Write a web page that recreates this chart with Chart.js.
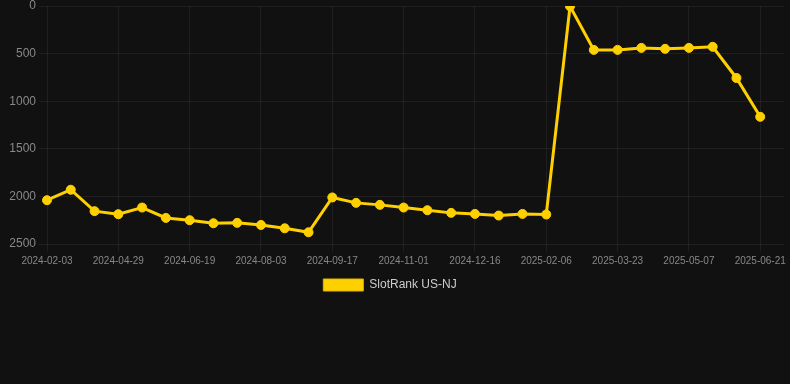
<!DOCTYPE html>
<html>
<head>
<meta charset="utf-8">
<script src="https://cdn.jsdelivr.net/npm/chart.js@4/dist/chart.umd.min.js"></script>
<style>
  html, body { margin: 0; padding: 0; background: #111111; }
  #wrap { position: relative; width: 790px; height: 302px; }
</style>
</head>
<body>
<div id="wrap"><canvas id="c"></canvas></div>
<script>
const dates = [
  "2024-02-03","2024-03-04","2024-04-14","2024-04-29","2024-05-16","2024-06-02",
  "2024-06-19","2024-07-04","2024-07-19","2024-08-03","2024-08-18","2024-09-02",
  "2024-09-17","2024-10-02","2024-10-17","2024-11-01","2024-11-16","2024-12-01",
  "2024-12-16","2024-12-31","2025-01-19","2025-02-06","2025-02-21","2025-03-08",
  "2025-03-23","2025-04-07","2025-04-22","2025-05-07","2025-05-22","2025-06-06",
  "2025-06-21","2025-07-06"
];
const rankNJ = [
  2040, 1930, 2155, 2187, 2117, 2226, 2250, 2282, 2278, 2300, 2335, 2377,
  2011, 2068, 2089, 2117, 2145, 2173, 2184, 2201, 2184, 2190,
  3, 461, 461, 440, 450, 440, 429, 756, 1164, null
];
const yTicks = [0, 500, 1000, 1500, 2000, 2500];
const seriesName = "SlotRank US-NJ";
const FONT = 'Arial, "Liberation Sans", sans-serif';

const legendNudge = {
  id: 'legendNudge',
  afterLayout(chart) {
    const lg = chart.legend;
    if (!lg) return;
    lg.left -= 5; lg.right -= 5;
    lg.top -= 1; lg.bottom -= 1;
  }
};

new Chart(document.getElementById('c'), {
  type: 'line',
  data: {
    labels: dates,
    datasets: [{
      label: seriesName,
      data: rankNJ,
      borderColor: '#FFD000',
      backgroundColor: '#FFD000',
      pointBackgroundColor: '#FFD000',
      pointBorderColor: '#FFD000',
      borderWidth: 3,
      pointRadius: 4.5,
      pointBorderWidth: 1,
      pointHoverRadius: 5,
      tension: 0,
      spanGaps: false
    }]
  },
  plugins: [legendNudge],
  options: {
    responsive: true,
    maintainAspectRatio: false,
    animation: false,
    layout: { padding: 0 },
    plugins: {
      legend: {
        display: true,
        position: 'bottom',
        labels: {
          color: '#cccccc',
          boxWidth: 40,
          boxHeight: 12,
          font: { family: FONT, size: 12 },
          generateLabels: (chart) => {
            const items = Chart.defaults.plugins.legend.labels.generateLabels(chart);
            items.forEach(it => { it.lineWidth = 1; it.strokeStyle = '#E0B800'; it.fillStyle = '#FFD000'; });
            return items;
          }
        }
      },
      tooltip: { enabled: false }
    },
    scales: {
      x: {
        type: 'category',
        offset: false,
        grid: { color: 'rgba(255,255,255,0.06)', drawTicks: true, tickLength: 8 },
        border: { display: false },
        ticks: {
          color: '#888888',
          maxRotation: 0,
          autoSkip: true,
          font: { family: FONT, size: 10 }
        }
      },
      y: {
        reverse: true,
        min: yTicks[0],
        max: yTicks[yTicks.length - 1],
        afterBuildTicks: (axis) => { axis.ticks = yTicks.map(v => ({ value: v })); },
        afterFit: (axis) => { axis.width = 47; },
        grid: { color: 'rgba(255,255,255,0.06)', drawTicks: true, tickLength: 8 },
        border: { display: false },
        ticks: {
          color: '#888888',
          font: { family: FONT, size: 12, lineHeight: 0.5 },
          callback: (v) => String(v)
        }
      }
    }
  }
});
</script>
</body>
</html>
